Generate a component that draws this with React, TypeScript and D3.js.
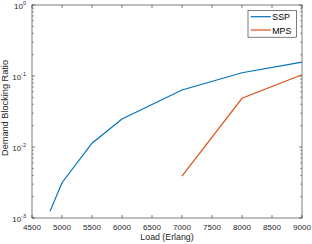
import { useEffect, useRef } from "react"
import * as d3 from "d3"

// Load values (Erlang)
const loadSSP = [4800, 5000, 5500, 6000, 7000, 8000, 9000]
const ratioSSP = [0.00124, 0.00314, 0.0113, 0.0248, 0.0636, 0.111, 0.157]
const loadMPS = [7000, 8000, 9000]
const ratioMPS = [0.0039, 0.0485, 0.104]
const xTicks = [4500, 5000, 5500, 6000, 6500, 7000, 7500, 8000, 8500, 9000]
const yExponents = [-3, -2, -1, 0]

export default function App() {
  const svgRef = useRef<SVGSVGElement>(null)

  useEffect(() => {
    if (!svgRef.current) return
    const W = 312
    const H = 244
    const margin = { top: 5, right: 10, bottom: 26, left: 32 }
    const width = W - margin.left - margin.right
    const height = H - margin.top - margin.bottom
    const axisColor = "#262626"
    const font = "'Liberation Sans', Arial, sans-serif"

    d3.select(svgRef.current).selectAll("*").remove()
    const root = d3.select(svgRef.current).attr("width", W).attr("height", H)

    const g = root.append("g").attr("transform", `translate(${margin.left},${margin.top})`)

    const x = d3.scaleLinear().domain([4500, 9000]).range([0, width])
    const y = d3.scaleLog().domain([1e-3, 1]).range([height, 0])

    // white plot background
    g.append("rect").attr("width", width).attr("height", height).attr("fill", "white")

    // x ticks (inside, bottom and top)
    xTicks.forEach((t) => {
      const px = x(t)
      g.append("line").attr("x1", px).attr("x2", px).attr("y1", height).attr("y2", height - 3)
        .attr("stroke", axisColor).attr("stroke-width", 0.6)
      g.append("line").attr("x1", px).attr("x2", px).attr("y1", 0).attr("y2", 3)
        .attr("stroke", axisColor).attr("stroke-width", 0.6)
      g.append("text").attr("x", px).attr("y", height + 11.5)
        .attr("text-anchor", "middle").style("font-family", font).style("font-size", "8px")
        .attr("fill", axisColor).text(String(t))
    })

    // y ticks, major and minor
    yExponents.forEach((e) => {
      const py = y(Math.pow(10, e))
      ;[[0, 3], [width, width - 3]].forEach(([a, b]) => {
        g.append("line").attr("x1", a).attr("x2", b).attr("y1", py).attr("y2", py)
          .attr("stroke", axisColor).attr("stroke-width", 0.6)
      })
      const lbl = g.append("text").attr("x", -6).attr("y", py + 4)
        .attr("text-anchor", "end").style("font-family", font).style("font-size", "8px")
        .attr("fill", axisColor)
      lbl.append("tspan").text("10")
      lbl.append("tspan").attr("dy", -4).style("font-size", "5.5px").text(String(e))
      if (e < 0) {
        for (let k = 2; k <= 9; k++) {
          const my = y(k * Math.pow(10, e))
          ;[[0, 1.8], [width, width - 1.8]].forEach(([a, b]) => {
            g.append("line").attr("x1", a).attr("x2", b).attr("y1", my).attr("y2", my)
              .attr("stroke", axisColor).attr("stroke-width", 0.5)
          })
        }
      }
    })

    // axes box
    g.append("rect").attr("width", width).attr("height", height).attr("fill", "none")
      .attr("stroke", axisColor).attr("stroke-width", 0.6)

    const line = d3.line<[number, number]>().x((d) => x(d[0])).y((d) => y(d[1]))
    const series = [
      { name: "SSP", color: "#0072BD", pts: loadSSP.map((l, i) => [l, ratioSSP[i]] as [number, number]) },
      { name: "MPS", color: "#D95319", pts: loadMPS.map((l, i) => [l, ratioMPS[i]] as [number, number]) },
    ]
    series.forEach((s) => {
      g.append("path").attr("d", line(s.pts)).attr("fill", "none")
        .attr("stroke", s.color).attr("stroke-width", 1.2)
    })

    // legend
    const lg = g.append("g").attr("transform", `translate(${width - 54},5.4)`)
    lg.append("rect").attr("width", 48.6).attr("height", 26.8).attr("fill", "white")
      .attr("stroke", axisColor).attr("stroke-width", 0.6)
    series.forEach((s, i) => {
      const ly = 6.3 + i * 13.3
      lg.append("line").attr("x1", 2.8).attr("x2", 22.8).attr("y1", ly).attr("y2", ly)
        .attr("stroke", s.color).attr("stroke-width", 1.2)
      lg.append("text").attr("x", 24.3).attr("y", ly + 3.6).style("font-family", font)
        .style("font-size", "8.8px").attr("fill", "#000").text(s.name)
    })

    // axis labels
    root.append("text").attr("x", margin.left + width / 2).attr("y", H - 4.5)
      .attr("text-anchor", "middle").style("font-family", font).style("font-size", "8.8px")
      .attr("fill", axisColor).text("Load (Erlang)")
    root.append("text")
      .attr("transform", `translate(7.5,108) rotate(-90)`)
      .attr("text-anchor", "middle").style("font-family", font).style("font-size", "9.2px")
      .attr("fill", axisColor).text("Demand Blocking Ratio")
  }, [])

  return (
    <svg ref={svgRef} style={{ position: "absolute", left: 0, top: 0, background: "white" }}></svg>
  )
}
